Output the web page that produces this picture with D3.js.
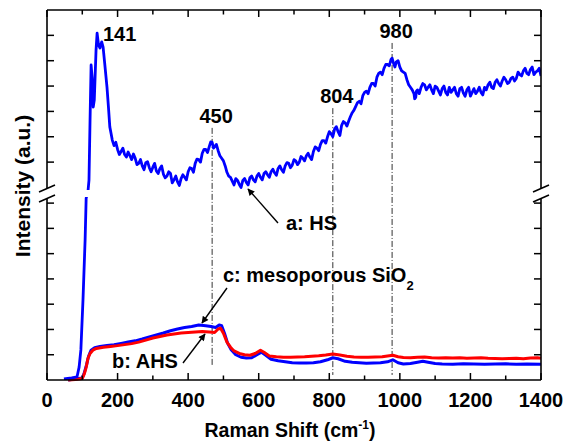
<!DOCTYPE html>
<html>
<head>
<meta charset="utf-8">
<script src="https://cdn.jsdelivr.net/npm/d3@7"></script>
<style>
  body { margin: 0; background: #fff; }
  text { font-family: Arial, "Liberation Sans", sans-serif; font-weight: bold; fill: #000; }
</style>
</head>
<body>
<div id="chart"></div>
<script>
// Raman spectra, intensity in arbitrary units (axis is broken between 7.4 and 7.9)
const hsSpectrum = [
  [48,0.04],[70,0.08],[85,0.12],[91,0.51],[96,1.19],[102,3.17],[108,5.54],[111,7.2],[116,7.57],
  [119,8.29],[122,10.66],[125,12.83],[128,12.32],[131,11.17],[134,11.45],[139,13.42],[142,14.09],
  [146,13.62],[150,13.5],[155,13.74],[159,13.54],[164,12.83],[170,11.96],[174,11.2],[178,10.39],
  [182,10.1],[185,9.87],
  [190,9.65],[195,9.78],[200,9.5],[205,9.3],[210,9.42],[215,9.55],[220,9.3],[225,9.2],[230,9.4],
  [235,9.25],[240,9.1],[245,9.32],[250,9.15],[255,8.9],[260,8.95],[265,9.1],[270,8.85],[275,8.7],
  [280,8.98],[285,9.02],[290,8.78],[295,8.62],[300,8.8],[305,8.95],[310,8.65],[315,8.55],[320,8.75],
  [325,8.85],[330,8.52],[335,8.38],[340,8.45],[345,8.62],[350,8.55],[355,8.18],[360,8.3],[365,8.45],
  [370,8.22],[375,8.08],[380,8.35],[385,8.5],[390,8.4],[395,8.3],[400,8.62],[405,8.78],[410,8.75],
  [415,8.6],[420,8.95],[425,9.12],[430,9.1],[435,9.0],[440,9.35],[445,9.5],[450,9.5],[455,9.38],
  [460,9.62],[464,9.8],[468,9.78],[472,9.55],[475,9.6],[480,9.7],[485,9.45],[490,9.25],[495,9.15],
  [500,9.05],[505,8.85],[510,8.6],[515,8.45],[520,8.4],[525,8.25],[530,8.1],[535,8.35],[540,8.28],
  [545,8.12],[550,8.0],[555,8.28],[560,8.35],[565,8.2],[570,8.1],[575,8.38],[580,8.45],[585,8.3],
  [590,8.22],[595,8.45],[600,8.55],[605,8.4],[610,8.3],[615,8.55],[620,8.62],[625,8.5],[630,8.4],
  [635,8.62],[640,8.72],[645,8.58],[650,8.48],[655,8.75],[660,8.85],[665,8.7],[670,8.6],[675,8.85],
  [680,8.98],[685,8.95],[690,8.78],[695,8.88],[700,9.1],[705,9.05],[710,8.9],[715,9.0],[720,9.22],
  [725,9.15],[730,9.05],[735,9.25],[740,9.35],[745,9.2],[750,9.1],[755,9.42],[760,9.6],[765,9.55],
  [770,9.45],[775,9.7],[780,9.85],[785,9.85],[790,9.75],[795,10.0],[800,10.2],[805,10.12],[810,10.0],
  [815,10.3],[820,10.4],[825,10.2],[830,10.05],[835,10.45],[840,10.6],[845,10.55],[850,10.42],
  [855,10.62],[860,10.8],[865,10.95],[870,11.05],[875,11.2],[880,11.35],[885,11.4],[890,11.3],
  [895,11.62],[900,11.75],[905,11.8],[910,11.7],[915,11.95],[920,12.1],[925,12.1],[930,12.0],
  [935,12.35],[940,12.5],[945,12.55],[950,12.45],[955,12.7],[960,12.85],[965,12.85],[970,12.8],
  [975,13.05],[978,13.1],[982,12.9],[986,12.75],[990,12.95],[995,13.0],[1000,12.75],[1005,12.6],
  [1010,12.55],[1015,12.5],[1020,12.25],[1025,12.05],[1030,11.95],[1035,11.85],[1040,11.7],
  [1042,11.5],[1045,11.55],[1047,11.8],[1050,11.85],[1055,11.7],[1060,11.95],[1065,12.1],[1070,12.05],
  [1075,11.85],[1080,11.95],[1085,12.05],[1090,11.85],[1095,11.7],[1100,12.0],[1105,11.95],
  [1110,11.8],[1115,11.65],[1120,11.9],[1125,12.0],[1130,11.75],[1135,11.65],[1140,11.95],
  [1145,11.75],[1150,11.85],[1155,11.95],[1160,11.7],[1165,11.6],[1170,11.9],[1175,11.95],
  [1180,11.72],[1185,11.6],[1190,11.85],[1195,11.95],[1200,11.6],[1205,11.75],[1210,11.9],
  [1215,11.7],[1220,11.8],[1225,11.95],[1230,11.75],[1235,11.65],[1240,11.95],[1245,11.85],
  [1250,12.05],[1255,12.15],[1260,11.95],[1265,11.9],[1270,12.15],[1275,12.25],[1280,12.1],
  [1285,12.0],[1290,12.2],[1295,12.35],[1300,12.25],[1305,12.1],[1310,12.15],[1315,12.3],
  [1320,12.35],[1325,12.2],[1330,12.3],[1335,12.55],[1340,12.45],[1345,12.4],[1350,12.6],
  [1355,12.7],[1360,12.5],[1365,12.45],[1370,12.65],[1375,12.75],[1380,12.45],[1385,12.55],
  [1390,12.6],[1395,12.7],[1400,12.4]
];

const sio2Spectrum = [
  [60,0.0],[100,0.08],[106,0.3],[112,0.6],[118,0.95],[125,1.18],[135,1.28],[150,1.33],[170,1.37],
  [190,1.4],[210,1.45],[230,1.5],[250,1.55],[270,1.62],[290,1.7],[310,1.78],[330,1.86],[350,1.95],
  [370,2.02],[390,2.08],[410,2.12],[430,2.18],[450,2.15],[465,2.12],[478,2.08],[488,2.18],[495,2.15],
  [503,1.85],[512,1.45],[522,1.2],[535,1.0],[550,0.9],[565,0.87],[580,0.88],[595,1.0],[608,1.1],
  [620,0.98],[635,0.82],[655,0.76],[675,0.72],[695,0.68],[715,0.67],[735,0.67],[755,0.68],[775,0.72],
  [795,0.8],[810,0.88],[825,0.84],[845,0.74],[865,0.7],[885,0.68],[905,0.66],[925,0.67],[945,0.68],
  [965,0.72],[980,0.8],[995,0.68],[1010,0.63],[1030,0.65],[1050,0.7],[1065,0.74],[1080,0.7],
  [1100,0.65],[1120,0.63],[1150,0.62],[1180,0.64],[1210,0.63],[1240,0.62],[1270,0.63],[1300,0.64],
  [1330,0.62],[1360,0.63],[1400,0.62]
];

const ahsSpectrum = [
  [60,0.0],[80,0.02],[100,0.06],[106,0.25],[111,0.5],[116,0.85],[122,1.05],[130,1.18],[140,1.25],
  [160,1.3],[180,1.33],[200,1.36],[220,1.4],[240,1.44],[260,1.5],[280,1.58],[300,1.66],[320,1.72],
  [340,1.78],[360,1.82],[380,1.86],[400,1.88],[420,1.9],[440,1.92],[460,1.9],[475,1.88],[485,2.02],
  [492,2.05],[500,1.85],[510,1.5],[520,1.3],[530,1.15],[545,1.05],[560,1.0],[575,0.98],[590,1.05],
  [605,1.18],[615,1.1],[630,0.95],[650,0.92],[670,0.9],[690,0.9],[710,0.91],[730,0.92],[750,0.94],
  [770,0.96],[790,0.99],[810,1.03],[830,0.99],[850,0.94],[870,0.91],[890,0.9],[910,0.9],[930,0.91],
  [950,0.92],[965,0.95],[980,0.98],[995,0.92],[1010,0.89],[1030,0.88],[1050,0.9],[1070,0.91],
  [1090,0.88],[1110,0.87],[1130,0.88],[1150,0.87],[1170,0.88],[1190,0.86],[1210,0.87],[1230,0.88],
  [1250,0.86],[1270,0.85],[1290,0.84],[1310,0.85],[1330,0.86],[1350,0.84],[1370,0.87],[1390,0.88],
  [1400,0.86]
];

const xTicks = [0, 200, 400, 600, 800, 1000, 1200, 1400];
const xMinorTicks = [100, 300, 500, 700, 900, 1100, 1300];
const yTicks = [1, 2, 3, 4, 5, 6, 7, 9, 10, 11, 12, 13, 14];

// peak markers: label, line position, line top / bottom (a.u.)
const peakLabels = ["450", "804", "980"];
const peakLines = [468, 810, 978];
const peakTop = [10.35, 11.13, 13.7];
const peakBottom = [0.59, 0.2, 0.2];

const svg = d3.select("#chart").append("svg")
    .attr("width", 566)
    .attr("height", 442);

const margin = { top: 10, right: 25, bottom: 62, left: 47 };
const W = 566, H = 442;

const x = d3.scaleLinear()
    .domain([0, 1400])
    .range([margin.left, W - margin.right]);

// broken axis: 7.4..7.9 collapses into the gap
const y = d3.scaleLinear()
    .domain([0, 7.4, 7.9, 15])
    .range([H - margin.bottom, 193, 190, margin.top]);

const x0 = x(0), x1 = x(1400), yb = y(0), yt = y(15);
const gapTop = 189, gapBot = 198;

// clip curve a through the break
const defs = svg.append("defs");
const clip = defs.append("clipPath").attr("id", "gapclip");
clip.append("rect").attr("x", x0).attr("y", yt).attr("width", x1 - x0).attr("height", 190 - yt);
clip.append("rect").attr("x", x0).attr("y", 197).attr("width", x1 - x0).attr("height", yb - 197);

defs.append("marker")
    .attr("id", "head")
    .attr("viewBox", "0 0 10 10")
    .attr("refX", 9).attr("refY", 5)
    .attr("markerWidth", 9).attr("markerHeight", 7)
    .attr("markerUnits", "userSpaceOnUse")
    .attr("orient", "auto")
  .append("path")
    .attr("d", "M0,0 L10,5 L0,10 z")
    .attr("fill", "#000");

// peak dash-dot lines
peakLines.forEach((p, i) => {
    svg.append("line")
        .attr("x1", x(p)).attr("x2", x(p))
        .attr("y1", y(peakTop[i])).attr("y2", y(peakBottom[i]))
        .attr("stroke", "#333")
        .attr("stroke-width", 1)
        .attr("stroke-dasharray", "6,2,1,2");
});

const line = d3.line()
    .x(d => x(d[0]))
    .y(d => y(d[1]));

svg.append("path")
    .datum(sio2Spectrum)
    .attr("d", line)
    .attr("fill", "none")
    .attr("stroke", "#0000ff")
    .attr("stroke-width", 3)
    .attr("stroke-linejoin", "round");

svg.append("path")
    .datum(ahsSpectrum)
    .attr("d", line)
    .attr("fill", "none")
    .attr("stroke", "#ff0000")
    .attr("stroke-width", 3)
    .attr("stroke-linejoin", "round");

svg.append("path")
    .datum(hsSpectrum)
    .attr("d", line)
    .attr("clip-path", "url(#gapclip)")
    .attr("fill", "none")
    .attr("stroke", "#0000ff")
    .attr("stroke-width", 2.8)
    .attr("stroke-linejoin", "round");

// frame
const frame = svg.append("g").attr("stroke", "#000").attr("stroke-width", 1.6).attr("fill", "none");
frame.append("line").attr("x1", x0).attr("x2", x1).attr("y1", yb).attr("y2", yb);
frame.append("line").attr("x1", x0).attr("x2", x1).attr("y1", yt).attr("y2", yt);
[x0, x1].forEach(xx => {
    frame.append("line").attr("x1", xx).attr("x2", xx).attr("y1", yt).attr("y2", gapTop);
    frame.append("line").attr("x1", xx).attr("x2", xx).attr("y1", gapBot).attr("y2", yb);
    [188.5, 198.5].forEach(cy => {
        frame.append("line")
            .attr("x1", xx - 8).attr("y1", cy + 3.5)
            .attr("x2", xx + 8).attr("y2", cy - 3.5);
    });
});

// ticks
const ticks = svg.append("g").attr("stroke", "#000").attr("stroke-width", 1.5);
xTicks.forEach(t => {
    ticks.append("line").attr("x1", x(t)).attr("x2", x(t)).attr("y1", yb).attr("y2", yb - 7);
    ticks.append("line").attr("x1", x(t)).attr("x2", x(t)).attr("y1", yt).attr("y2", yt + 7);
});
xMinorTicks.forEach(t => {
    ticks.append("line").attr("x1", x(t)).attr("x2", x(t)).attr("y1", yb).attr("y2", yb - 4.5);
    ticks.append("line").attr("x1", x(t)).attr("x2", x(t)).attr("y1", yt).attr("y2", yt + 4.5);
});
yTicks.forEach(t => {
    ticks.append("line").attr("x1", x0).attr("x2", x0 + 7).attr("y1", y(t)).attr("y2", y(t));
    ticks.append("line").attr("x1", x1).attr("x2", x1 - 7).attr("y1", y(t)).attr("y2", y(t));
});

svg.append("g")
    .selectAll("text")
    .data(xTicks)
    .join("text")
    .attr("x", d => x(d))
    .attr("y", 407)
    .attr("text-anchor", "middle")
    .attr("font-size", 20)
    .text(d => d);

// axis titles
const xt = svg.append("text")
    .attr("x", 290)
    .attr("y", 437)
    .attr("text-anchor", "middle")
    .attr("font-size", 19.5);
xt.append("tspan").text("Raman Shift (cm");
xt.append("tspan").attr("dy", -8).attr("font-size", 12).text("-1");
xt.append("tspan").attr("dy", 8).text(")");

svg.append("text")
    .attr("transform", "translate(30,186) rotate(-90)")
    .attr("text-anchor", "middle")
    .attr("font-size", 21)
    .text("Intensity (a.u.)");

// peak labels
svg.append("text").attr("x", 103).attr("y", 41).attr("font-size", 20).text("141");
peakLabels.forEach((lab, i) => {
    svg.append("text")
        .attr("x", x(peakLines[i]) + 4)
        .attr("y", y(peakTop[i]) - 5)
        .attr("text-anchor", "middle")
        .attr("font-size", 20)
        .text(lab);
});

// curve labels with arrows
svg.append("text").attr("x", 286).attr("y", 230).attr("font-size", 20).text("a: HS");
svg.append("line").attr("x1", 278).attr("y1", 223).attr("x2", 248).attr("y2", 189)
    .attr("stroke", "#000").attr("stroke-width", 1.4).attr("marker-end", "url(#head)");

const ct = svg.append("text").attr("x", 223).attr("y", 282).attr("font-size", 20);
ct.append("tspan").text("c: mesoporous SiO");
ct.append("tspan").attr("dy", 8).attr("font-size", 13).text("2");
svg.append("line").attr("x1", 227).attr("y1", 288).attr("x2", 202).attr("y2", 323)
    .attr("stroke", "#000").attr("stroke-width", 1.4).attr("marker-end", "url(#head)");

svg.append("text").attr("x", 112).attr("y", 368).attr("font-size", 20).text("b: AHS");
svg.append("line").attr("x1", 183).attr("y1", 363).attr("x2", 205).attr("y2", 334)
    .attr("stroke", "#000").attr("stroke-width", 1.4).attr("marker-end", "url(#head)");
</script>
</body>
</html>
